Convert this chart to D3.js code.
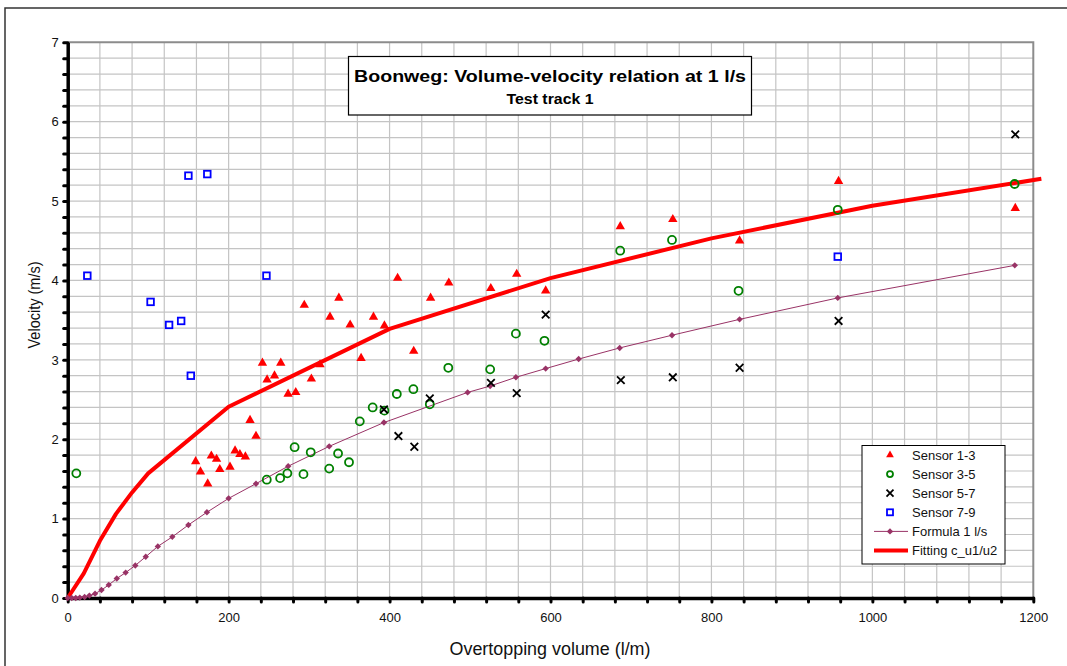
<!DOCTYPE html>
<html>
<head>
<meta charset="utf-8">
<script src="https://cdn.jsdelivr.net/npm/d3@7"></script>
<style>
  body { margin: 0; background: #fff; }
  text { font-family: Arial, 'Liberation Sans', sans-serif; }
</style>
</head>
<body>
<div id="chart"></div>
<script>
const sensor13X = [159, 165, 174, 178.5, 185, 189, 201.7, 208, 214, 220.8, 226.6, 234, 242, 247.8, 257, 264.8, 273.9, 283.4, 294, 302.8, 313.6, 326, 337, 351, 364.6, 380, 393.6, 410, 430, 451, 473.6, 525.8, 558, 594, 686.7, 752, 835, 958, 1177.6]
const sensor13Y = [1.72, 1.59, 1.44, 1.79, 1.75, 1.62, 1.65, 1.855, 1.81, 1.78, 2.24, 2.04, 2.96, 2.75, 2.80, 2.96, 2.57, 2.59, 3.69, 2.76, 2.94, 3.54, 3.78, 3.44, 3.02, 3.54, 3.43, 4.03, 3.11, 3.78, 3.97, 3.90, 4.08, 3.87, 4.68, 4.77, 4.50, 5.25, 4.91]

const sensor35X = [10.7, 247.4, 264, 273, 282, 293, 302, 325, 336, 349.6, 363, 379, 393.6, 409, 429.6, 450, 473, 525, 557, 592.5, 686.6, 751, 833.7, 957, 1176.8]
const sensor35Y = [1.57, 1.49, 1.51, 1.57, 1.90, 1.56, 1.835, 1.63, 1.82, 1.71, 2.225, 2.40, 2.36, 2.57, 2.63, 2.44, 2.90, 2.88, 3.33, 3.24, 4.375, 4.51, 3.87, 4.89, 5.215]

const sensor57X = [393, 411, 430.8, 450, 526, 558, 594, 687.4, 752, 835, 958, 1177.6]
const sensor57Y = [2.375, 2.04, 1.905, 2.515, 2.71, 2.58, 3.57, 2.745, 2.78, 2.90, 3.49, 5.84]

const sensor79X = [24.4, 103, 126, 141, 150, 153, 173.5, 247, 957]
const sensor79Y = [4.06, 3.73, 3.44, 3.49, 5.32, 2.80, 5.34, 4.06, 4.30]

const formulaX = [0, 5, 10, 15, 21, 27, 34, 42, 51, 61, 72, 84, 97, 112, 130, 150, 173, 200, 234, 274, 325, 393, 497, 525, 557, 594, 635, 686, 751, 835, 957, 1177]
const formulaY = [0, 0, 0, 0.005, 0.013, 0.03, 0.055, 0.10, 0.165, 0.245, 0.32, 0.41, 0.52, 0.65, 0.77, 0.92, 1.08, 1.255, 1.44, 1.66, 1.91, 2.21, 2.59, 2.67, 2.78, 2.89, 3.01, 3.15, 3.31, 3.51, 3.78, 4.19]

const fittingX = [0, 20, 40, 60, 80, 100, 200, 400, 600, 800, 1000, 1210]
const fittingY = [0, 0.31, 0.72, 1.06, 1.33, 1.57, 2.41, 3.39, 4.03, 4.53, 4.94, 5.28]

const xTicks = [0, 200, 400, 600, 800, 1000, 1200]
const yTicks = [0, 1, 2, 3, 4, 5, 6, 7]
const legendLabels = ['Sensor 1-3', 'Sensor 3-5', 'Sensor 5-7', 'Sensor 7-9', 'Formula 1 l/s', 'Fitting c_u1/u2']

const W = 1067, H = 666
const margin = {top: 42.3, right: 33.7, bottom: 68, left: 67.7}
const width = W - margin.left - margin.right,
  height = H - margin.top - margin.bottom

const zip = (xs, ys) => xs.map((x, i) => ({x, y: ys[i]}))

const svg = d3.select('#chart').append('svg')
  .attr('width', W)
  .attr('height', H)

// outer frame
svg.append('path')
  .attr('d', `M5,${H + 5} V8 H${W + 5}`)
  .attr('fill', 'none')
  .attr('stroke', '#333')
  .attr('stroke-width', 1.5)

const x = d3.scaleLinear().domain([0, 1200]).range([0, width])
const y = d3.scaleLinear().domain([0, 7]).range([height, 0])

const g = svg.append('g')
  .attr('transform', `translate(${margin.left}, ${margin.top})`)

const minorX = d3.range(0, 31).map(i => i * 40)
const minorY = d3.range(0, 36).map(i => i / 5)

// grid
g.append('g')
  .attr('class', 'grid')
  .selectAll('line.v').data(minorX.slice(1, -1))
  .enter().append('line')
  .attr('x1', d => x(d)).attr('x2', d => x(d))
  .attr('y1', 0).attr('y2', height)
  .attr('stroke', '#c4c4c4')
  .attr('stroke-width', 1.2)
g.select('.grid')
  .selectAll('line.h').data(minorY.slice(1, -1))
  .enter().append('line')
  .attr('x1', 0).attr('x2', width)
  .attr('y1', d => y(d)).attr('y2', d => y(d))
  .attr('stroke', '#c4c4c4')
  .attr('stroke-width', 1.2)

// top / right border
g.append('path')
  .attr('d', `M0,0 H${width} V${height}`)
  .attr('fill', 'none')
  .attr('stroke', '#8c8c8c')
  .attr('stroke-width', 2)

// axes
const xAxis = d3.axisBottom(x)
  .tickValues(minorX)
  .tickSize(4)
  .tickSizeOuter(0)
  .tickPadding(11)
  .tickFormat(d => xTicks.includes(d) ? d : '')
const yAxis = d3.axisLeft(y)
  .tickValues(minorY)
  .tickSize(4)
  .tickSizeOuter(0)
  .tickPadding(5)
  .tickFormat(d => Math.abs(d - Math.round(d)) < 1e-6 && yTicks.includes(Math.round(d)) ? Math.round(d) : '')

const gx = g.append('g')
  .attr('transform', `translate(0, ${height})`)
  .call(xAxis)
const gy = g.append('g').call(yAxis)

;[gx, gy].forEach(a => {
  a.select('.domain').attr('stroke', '#000').attr('stroke-width', 3.5)
  a.selectAll('.tick line').attr('stroke', '#000').attr('stroke-width', 3).attr('stroke-linecap', 'round')
  a.selectAll('.tick text')
    .style('font-size', '13px')
    .attr('fill', '#111')
})

// fitting line
const line = d3.line().x(d => x(d.x)).y(d => y(d.y))
g.append('path')
  .datum(zip(fittingX, fittingY))
  .attr('d', line)
  .attr('fill', 'none')
  .attr('stroke', '#ff0000')
  .attr('stroke-width', 4)
  .attr('stroke-linejoin', 'round')

// formula line
g.append('path')
  .datum(zip(formulaX, formulaY))
  .attr('d', line)
  .attr('fill', 'none')
  .attr('stroke', '#993366')
  .attr('stroke-width', 1)
g.selectAll('.formula').data(zip(formulaX, formulaY))
  .enter().append('path')
  .attr('class', 'formula')
  .attr('transform', d => `translate(${x(d.x)}, ${y(d.y)})`)
  .attr('d', d3.symbol(d3.symbolDiamond2, 26))
  .attr('fill', '#993366')

const triangle = d3.symbol(d3.symbolTriangle, 38)()
const triangleSmall = d3.symbol(d3.symbolTriangle, 26)()

g.selectAll('.s13').data(zip(sensor13X, sensor13Y))
  .enter().append('path')
  .attr('class', 's13')
  .attr('transform', d => `translate(${x(d.x)}, ${y(d.y)})`)
  .attr('d', triangle)
  .attr('fill', '#ff0000')

g.selectAll('.s35').data(zip(sensor35X, sensor35Y))
  .enter().append('circle')
  .attr('class', 's35')
  .attr('cx', d => x(d.x))
  .attr('cy', d => y(d.y))
  .attr('r', 4)
  .attr('fill', 'none')
  .attr('stroke', '#008000')
  .attr('stroke-width', 1.8)

const cross = s => `M${-s},${-s}L${s},${s}M${-s},${s}L${s},${-s}`
g.selectAll('.s57').data(zip(sensor57X, sensor57Y))
  .enter().append('path')
  .attr('class', 's57')
  .attr('transform', d => `translate(${x(d.x)}, ${y(d.y)})`)
  .attr('d', cross(3.8))
  .attr('stroke', '#000')
  .attr('stroke-width', 1.8)

g.selectAll('.s79').data(zip(sensor79X, sensor79Y))
  .enter().append('rect')
  .attr('class', 's79')
  .attr('x', d => x(d.x) - 3.3)
  .attr('y', d => y(d.y) - 3.3)
  .attr('width', 6.6)
  .attr('height', 6.6)
  .attr('fill', '#fff')
  .attr('stroke', '#0000ff')
  .attr('stroke-width', 1.8)

// axis titles
svg.append('text')
  .attr('x', 550)
  .attr('y', 655)
  .attr('text-anchor', 'middle')
  .attr('textLength', 201)
  .attr('lengthAdjust', 'spacingAndGlyphs')
  .style('font-size', '18px')
  .attr('fill', '#111')
  .text('Overtopping volume (l/m)')
svg.append('text')
  .attr('transform', 'translate(40, 305) rotate(-90)')
  .attr('text-anchor', 'middle')
  .style('font-size', '16px')
  .attr('textLength', 87)
  .attr('lengthAdjust', 'spacingAndGlyphs')
  .attr('fill', '#111')
  .text('Velocity (m/s)')

// title box
const tb = svg.append('g')
tb.append('rect')
  .attr('x', 348.5).attr('y', 56.5)
  .attr('width', 403).attr('height', 58.5)
  .attr('fill', '#fff')
  .attr('stroke', '#000')
  .attr('stroke-width', 1.2)
tb.append('text')
  .attr('x', 550).attr('y', 82)
  .attr('text-anchor', 'middle')
  .attr('textLength', 392)
  .attr('lengthAdjust', 'spacingAndGlyphs')
  .style('font-size', '17px')
  .style('font-weight', 'bold')
  .text('Boonweg: Volume-velocity relation at 1 l/s')
tb.append('text')
  .attr('x', 550).attr('y', 104)
  .attr('text-anchor', 'middle')
  .attr('textLength', 87)
  .attr('lengthAdjust', 'spacingAndGlyphs')
  .style('font-size', '14px')
  .style('font-weight', 'bold')
  .text('Test track 1')

// legend
const lg = svg.append('g')
lg.append('rect')
  .attr('x', 862).attr('y', 445.5)
  .attr('width', 143).attr('height', 118.5)
  .attr('fill', '#fff')
  .attr('stroke', '#000')
  .attr('stroke-width', 1)
const rowY = i => 455 + i * 19.1
lg.selectAll('text').data(legendLabels)
  .enter().append('text')
  .attr('x', 912)
  .attr('y', (d, i) => rowY(i))
  .attr('dy', '0.35em')
  .style('font-size', '13px')
  .attr('fill', '#111')
  .text(d => d)
lg.append('path')
  .attr('transform', `translate(890, ${rowY(0)})`)
  .attr('d', triangleSmall)
  .attr('fill', '#ff0000')
lg.append('circle')
  .attr('cx', 890).attr('cy', rowY(1)).attr('r', 3)
  .attr('fill', 'none').attr('stroke', '#008000').attr('stroke-width', 1.8)
lg.append('path')
  .attr('transform', `translate(890, ${rowY(2)})`)
  .attr('d', cross(3.5))
  .attr('stroke', '#000').attr('stroke-width', 1.8)
lg.append('rect')
  .attr('x', 887).attr('y', rowY(3) - 3).attr('width', 6).attr('height', 6)
  .attr('fill', '#fff').attr('stroke', '#0000ff').attr('stroke-width', 1.8)
lg.append('line')
  .attr('x1', 874).attr('x2', 908).attr('y1', rowY(4)).attr('y2', rowY(4))
  .attr('stroke', '#993366').attr('stroke-width', 1)
lg.append('path')
  .attr('transform', `translate(890, ${rowY(4)})`)
  .attr('d', d3.symbol(d3.symbolDiamond2, 26))
  .attr('fill', '#993366')
lg.append('line')
  .attr('x1', 874).attr('x2', 908).attr('y1', rowY(5)).attr('y2', rowY(5))
  .attr('stroke', '#ff0000').attr('stroke-width', 4)
</script>
</body>
</html>
